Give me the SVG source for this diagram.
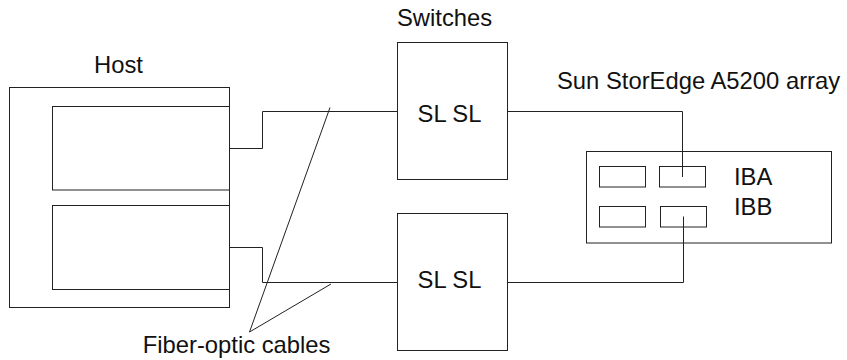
<svg xmlns="http://www.w3.org/2000/svg" width="847" height="360" viewBox="0 0 847 360">
<style>
.box{fill:none;stroke:#222;stroke-width:1}
.ln{fill:none;stroke:#222;stroke-width:1}
.t{font-family:"Liberation Sans",Arial,sans-serif;font-size:23.8px;fill:#111}
</style>
<rect width="847" height="360" fill="#fff"/>
<g id="host">
<rect class="box" x="9.5" y="87.5" width="220" height="220"/>
<rect class="box" x="52.5" y="106.5" width="177" height="83.5"/>
<rect class="box" x="52.5" y="205.5" width="177" height="84"/>
<text class="t" x="94" y="72.5">Host</text>
</g>
<g id="switch1">
<rect class="box" x="397.5" y="42.5" width="110" height="137"/>
<text class="t" x="449.5" y="121.5" text-anchor="middle">SL SL</text>
</g>
<g id="switch2">
<rect class="box" x="397.5" y="213.5" width="110" height="137"/>
<text class="t" x="449.5" y="287.5" text-anchor="middle">SL SL</text>
</g>
<text class="t" x="397" y="25.5">Switches</text>
<g id="array">
<rect class="box" x="586.5" y="151.5" width="245" height="91.5"/>
<rect class="box" x="599.5" y="166.5" width="46" height="20.5"/>
<rect class="box" x="659.5" y="166.5" width="46" height="20.5"/>
<rect class="box" x="599.5" y="206.5" width="46" height="20.5"/>
<rect class="box" x="660.5" y="206.5" width="46" height="20.5"/>
<text class="t" x="734" y="185">IBA</text>
<text class="t" x="734" y="215">IBB</text>
<text class="t" x="557" y="88.5">Sun StorEdge A5200 array</text>
</g>
<g id="connectors">
<polyline class="ln" points="230,148.5 262.5,148.5 262.5,111.5 397.5,111.5"/>
<polyline class="ln" points="230,247.5 262.5,247.5 262.5,282.5 397.5,282.5"/>
<polyline class="ln" points="507.5,111.5 682.5,111.5 682.5,177"/>
<polyline class="ln" points="507.5,282.5 683.5,282.5 683.5,216.5"/>
<polyline class="ln" points="330,107.5 249.5,332 331,284"/>
</g>
<text class="t" x="142.7" y="353.3">Fiber-optic cables</text>
</svg>
